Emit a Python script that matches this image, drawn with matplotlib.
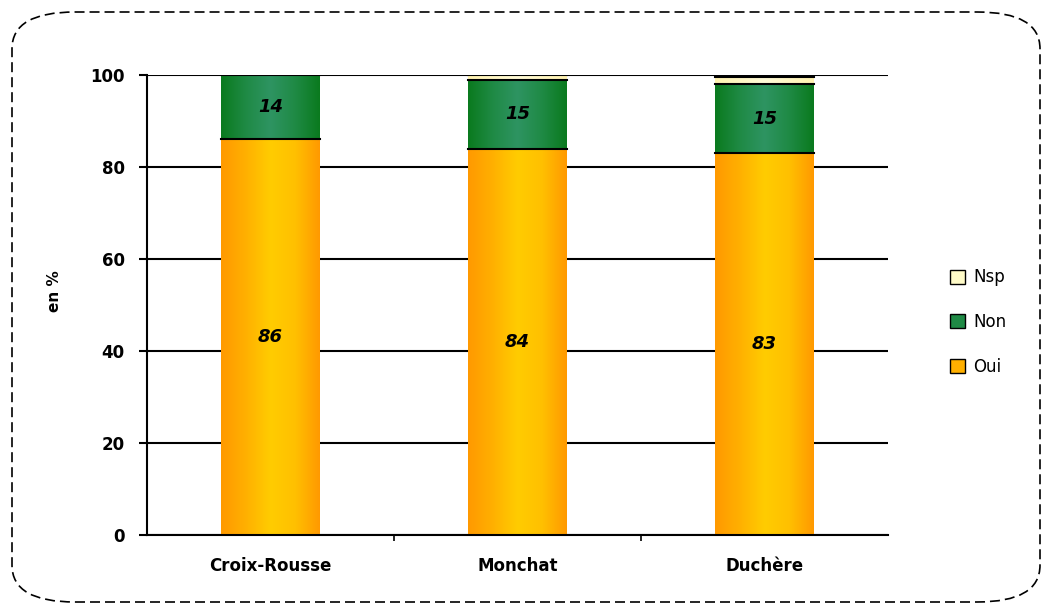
import matplotlib
matplotlib.use("Agg")
import matplotlib.pyplot as plt
import numpy as np
from matplotlib.patches import FancyBboxPatch, Rectangle, Patch
from matplotlib.colors import LinearSegmentedColormap

categories = ["Croix-Rousse", "Monchat", "Duchère"]
oui = [86, 84, 83]
non = [14, 15, 15]
nsp = [0, 1, 1.5]
yticks = [0, 20, 40, 60, 80, 100]

fig = plt.figure(figsize=(10.5, 6.12), dpi=100)
W, H = 1050, 612
ax = fig.add_axes([147 / W, 1 - 535 / H, (888 - 147) / W, (535 - 75) / H])

# rounded border
border = FancyBboxPatch((12 / W, 10 / H), (1040 - 12) / W, (600 - 10) / H,
                        boxstyle="round,pad=0,rounding_size=0.06",
                        transform=fig.transFigure, fill=False, ec="black",
                        lw=1.2, ls=(0, (6, 3)))
fig.patches.append(border)

cm_orange = LinearSegmentedColormap.from_list("o", ["#FF9900", "#FFB000", "#FFCC00", "#FFC000", "#FF9900"])
cm_green = LinearSegmentedColormap.from_list("g", ["#0A7A1E", "#1F8A45", "#2E9462", "#1F8A45", "#0A7A1E"])
cm_nsp = LinearSegmentedColormap.from_list("n", ["#FFF3B0", "#FFFBD8", "#FFF3B0"])

bw = 0.4
x = np.arange(len(categories))
grad = np.linspace(0, 1, 256).reshape(1, -1)

def gbar(xc, bottom, height, cmap):
    if height <= 0:
        return
    r = Rectangle((xc - bw / 2, bottom), bw, height, facecolor="none", edgecolor="none")
    ax.add_patch(r)
    im = ax.imshow(grad, cmap=cmap, aspect="auto",
                   extent=(xc - bw / 2, xc + bw / 2, bottom, bottom + height),
                   zorder=2, interpolation="bilinear")
    im.set_clip_path(r)
    ax.plot([xc - bw / 2, xc + bw / 2], [bottom + height, bottom + height],
            color="black", lw=1.5, zorder=3)

for i, xc in enumerate(x):
    gbar(xc, 0, oui[i], cm_orange)
    gbar(xc, oui[i], non[i], cm_green)
    gbar(xc, oui[i] + non[i], nsp[i], cm_nsp)
    ax.text(xc, oui[i] / 2, f"{oui[i]}", ha="center", va="center",
            fontsize=13, fontweight="bold", style="italic", zorder=4)
    ax.text(xc, oui[i] + non[i] / 2, f"{non[i]}", ha="center", va="center",
            fontsize=13, fontweight="bold", style="italic", zorder=4)

ax.set_xlim(-0.5, 2.5)
ax.set_ylim(0, 100)
ax.set_yticks(yticks)
ax.set_yticklabels([str(v) for v in yticks], fontsize=12, fontweight="bold")
ax.yaxis.grid(True, color="black", lw=1.5, zorder=1)
ax.set_axisbelow(True)
ax.set_xticks([0.5, 1.5])
ax.set_xticklabels(["", ""])
ax.tick_params(axis="x", length=4, width=1.2, direction="out")
for i, c in enumerate(categories):
    ax.text(x[i], -6.8, c, ha="center", va="center", fontsize=12,
            fontweight="bold")
ax.tick_params(axis="y", length=6, width=1.5, pad=10)
for s in ["top", "right"]:
    ax.spines[s].set_visible(False)
ax.spines["left"].set_linewidth(1.5)
ax.spines["bottom"].set_linewidth(1.5)
ax.set_ylabel("en %", fontsize=11, fontweight="bold")
ax.yaxis.set_label_coords((62 - 147) / (888 - 147), 0.53)

# legend
handles = [Patch(facecolor="#FFFBC8", edgecolor="black", label="Nsp"),
           Patch(facecolor="#1F8A45", edgecolor="black", label="Non"),
           Patch(facecolor="#FFB000", edgecolor="black", label="Oui")]
fig.legend(handles=handles, loc="center left", bbox_to_anchor=(935 / W, 1 - 322 / H),
           frameon=False, fontsize=12, labelspacing=1.6, handlelength=0.9,
           handleheight=0.9, handletextpad=0.5)

fig.savefig("out.png", dpi=100)
